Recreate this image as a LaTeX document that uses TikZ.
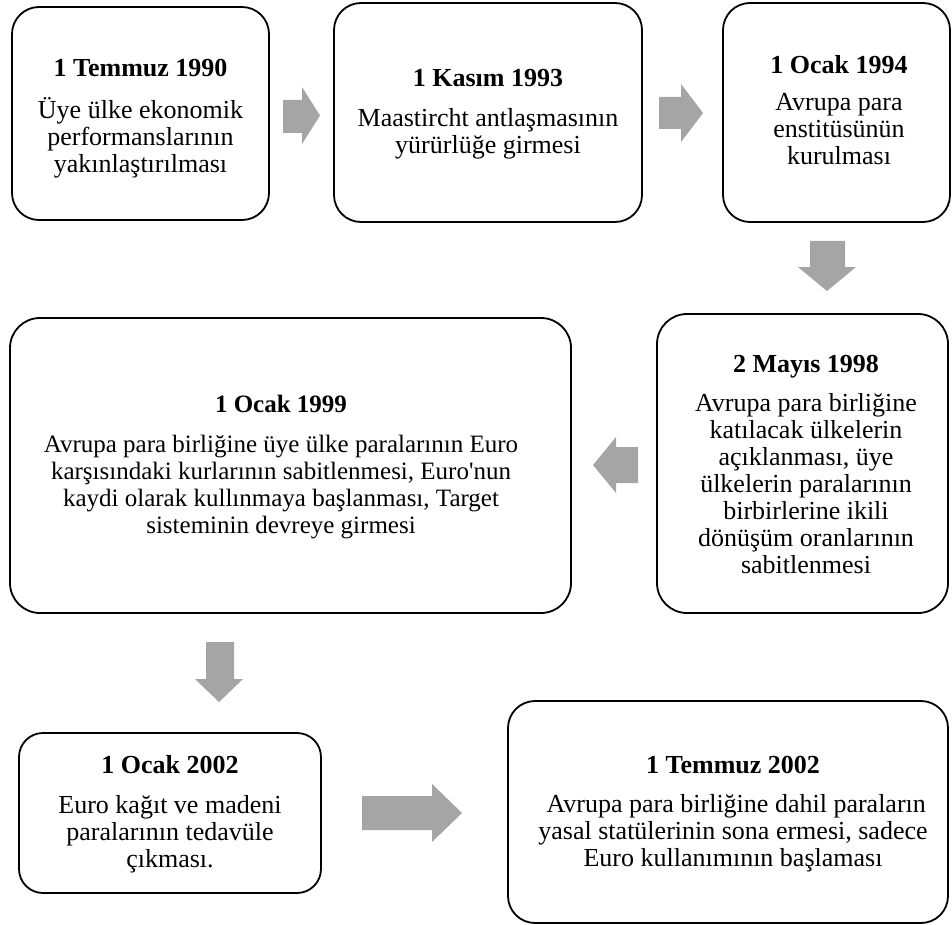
\documentclass[tikz,border=0pt]{standalone}
\usepackage{fontspec}
\setmainfont{Liberation Serif}[Ligatures=TeXOff]
\definecolor{arrowgray}{HTML}{A5A5A5}
\begin{document}
\begin{tikzpicture}[x=1pt,y=-1pt,
  box/.style={draw=black, line width=1.8pt, rounded corners=#1, inner sep=0pt, fill=white},
  box/.default=27pt,
  txt/.style={anchor=base, inner sep=0pt, font=\fontsize{26}{27}\selectfont},
  txtsmall/.style={anchor=base, inner sep=0pt, font=\fontsize{25}{27}\selectfont},
  blk/.style={fill=arrowgray, draw=none}]
\useasboundingbox (0,0) rectangle (952,925);
\fill[white] (0,0) rectangle (952,925);

% boxes
\node[box=27pt, minimum width=257pt, minimum height=213pt] (b1) at (140.5,113.5) {};
\node[box=27pt, minimum width=308pt, minimum height=219pt] (b2) at (488,112.5) {};
\node[box=27pt, minimum width=227pt, minimum height=219pt] (b3) at (836.5,112.5) {};
\node[box=30pt, minimum width=291pt, minimum height=299pt] (b5) at (802.5,463.5) {};
\node[box=30pt, minimum width=561pt, minimum height=295pt] (b4) at (290.5,465.5) {};
\node[box=24pt, minimum width=302pt, minimum height=160pt] (b6) at (170,813) {};
\node[box=27pt, minimum width=440pt, minimum height=222pt] (b7) at (728,812) {};

% texts
\node[txt] (t1) at (140.5,77) {\begin{tabular}[t]{@{}c@{}}\textbf{1 Temmuz 1990}\\[12pt] Üye ülke ekonomik\\ performanslarının\\ yakınlaştırılması\end{tabular}};
\node[txt] (t2) at (488,87) {\begin{tabular}[t]{@{}c@{}}\textbf{1 Kasım 1993}\\[13pt] Maastircht antlaşmasının\\ yürürlüğe girmesi\end{tabular}};
\node[txt] (t3) at (839,74) {\begin{tabular}[t]{@{}c@{}}\textbf{1 Ocak 1994}\\[10pt] Avrupa para\\ enstitüsünün\\ kurulması\end{tabular}};
\node[txt] (t5) at (806,372) {\begin{tabular}[t]{@{}c@{}}\textbf{2 Mayıs 1998}\\[12pt] Avrupa para birliğine\\ katılacak ülkelerin\\ açıklanması, üye\\ ülkelerin paralarının\\ birbirlerine ikili\\ dönüşüm oranlarının\\ sabitlenmesi\end{tabular}};
\node[txtsmall] (t4) at (281,412) {\begin{tabular}[t]{@{}c@{}}\textbf{1 Ocak 1999}\\[13pt] Avrupa para birliğine üye ülke paralarının Euro\\ karşısındaki kurlarının sabitlenmesi, Euro'nun\\ kaydi olarak kullınmaya başlanması, Target\\ sisteminin devreye girmesi\end{tabular}};
\node[txt] (t6) at (170,773) {\begin{tabular}[t]{@{}c@{}}\textbf{1 Ocak 2002}\\[13pt] Euro kağıt ve madeni\\ paralarının tedavüle\\ çıkması.\end{tabular}};
\node[txt] (t7) at (733,773) {\begin{tabular}[t]{@{}c@{}}\textbf{1 Temmuz 2002}\\[12pt] \hspace{0.25em}Avrupa para birliğine dahil paraların\\ yasal statülerinin sona ermesi, sadece\\ Euro kullanımının başlaması\end{tabular}};

% block arrows
\fill[blk] (283,100) -- (302,100) -- (302,87) -- (320,115.5) -- (302,144) -- (302,133) -- (283,133) -- cycle;
\fill[blk] (659,97) -- (681,97) -- (681,84) -- (703,113) -- (681,142) -- (681,129) -- (659,129) -- cycle;
\fill[blk] (810,241) -- (845,241) -- (845,267) -- (856,267) -- (827,291) -- (798,267) -- (810,267) -- cycle;
\fill[blk] (638,447) -- (616,447) -- (616,437) -- (593,465) -- (616,493) -- (616,483) -- (638,483) -- cycle;
\fill[blk] (206,642) -- (234,642) -- (234,679) -- (243,679) -- (219,702) -- (195,679) -- (206,679) -- cycle;
\fill[blk] (362,796) -- (432,796) -- (432,784) -- (462,813) -- (432,842) -- (432,830) -- (362,830) -- cycle;
\end{tikzpicture}
\end{document}
